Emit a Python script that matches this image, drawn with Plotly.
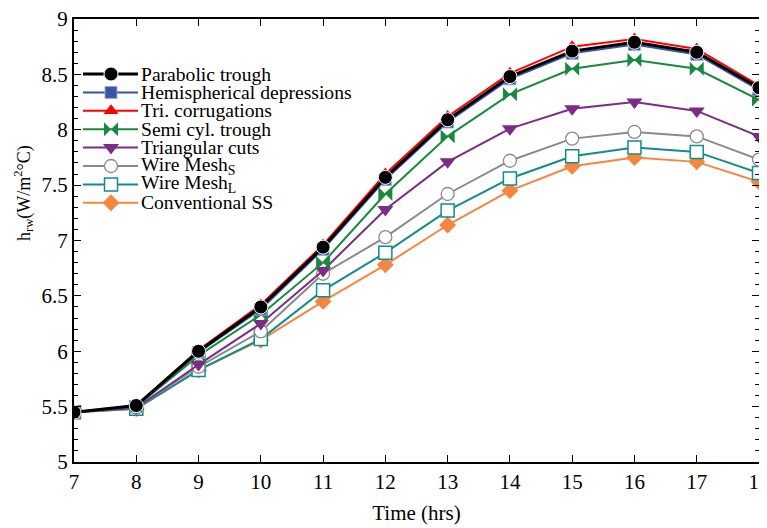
import plotly.graph_objects as go

hours = [7, 8, 9, 10, 11, 12, 13, 14, 15, 16, 17, 18]

parabolic = [5.45, 5.51, 6.00, 6.40, 6.94, 7.57, 8.09, 8.48, 8.71, 8.79, 8.70, 8.38]
hemispherical = [5.45, 5.50, 5.99, 6.38, 6.92, 7.55, 8.07, 8.46, 8.69, 8.77, 8.68, 8.36]
tri_corrugations = [5.45, 5.51, 6.01, 6.42, 6.96, 7.60, 8.12, 8.51, 8.75, 8.82, 8.73, 8.40]
semi_cyl = [5.45, 5.50, 5.96, 6.33, 6.80, 7.42, 7.94, 8.32, 8.55, 8.63, 8.55, 8.27]
triangular = [5.45, 5.49, 5.88, 6.25, 6.73, 7.28, 7.71, 8.01, 8.19, 8.25, 8.17, 7.94]
wire_mesh_s = [5.45, 5.49, 5.86, 6.18, 6.70, 7.03, 7.42, 7.72, 7.92, 7.98, 7.94, 7.73]
wire_mesh_l = [5.45, 5.48, 5.83, 6.11, 6.55, 6.89, 7.27, 7.56, 7.76, 7.84, 7.80, 7.61]
conventional = [5.45, 5.48, 5.83, 6.10, 6.45, 6.78, 7.14, 7.45, 7.67, 7.75, 7.71, 7.53]

labels = ["Parabolic trough", "Hemispherical depressions", "Tri. corrugations",
          "Semi cyl. trough", "Triangular cuts", "Wire Mesh<sub>S</sub>",
          "Wire Mesh<sub>L</sub>", "Conventional SS"]
series = [parabolic, hemispherical, tri_corrugations, semi_cyl, triangular,
          wire_mesh_s, wire_mesh_l, conventional]

styles = [
    dict(color="#000000", symbol="circle", fill="#000000", size=14, lw=3, mlw=1, mlc="#FFFFFF"),
    dict(color="#3A53A4", symbol="square", fill="#3A53A4", size=12, lw=2, mlw=1, mlc="#9AA8D8"),
    dict(color="#FF0000", symbol="triangle-up", fill="#FF0000", size=13, lw=2, mlw=0, mlc="#FF0000"),
    dict(color="#178A3E", symbol="bowtie", fill="#178A3E", size=14, lw=2, mlw=0, mlc="#178A3E"),
    dict(color="#7B2D86", symbol="triangle-down", fill="#7B2D86", size=14, lw=2, mlw=0, mlc="#7B2D86"),
    dict(color="#8A8A8A", symbol="circle", fill="#FFFFFF", size=13, lw=2, mlw=1.3, mlc="#8A8A8A"),
    dict(color="#138C8C", symbol="square", fill="#FFFFFF", size=13, lw=2, mlw=1.5, mlc="#138C8C"),
    dict(color="#F4863F", symbol="diamond", fill="#F4863F", size=13, lw=2, mlw=0, mlc="#F4863F"),
]

FONT = "Liberation Serif"
y_title = "h<sub>rw</sub>(W/m<sup>2</sup>°C)"
x_title = "Time (hrs)"

fig = go.Figure()

# draw in reverse so the black series ends on top
for lab, vals, st in reversed(list(zip(labels, series, styles))):
    fig.add_trace(go.Scatter(
        x=hours, y=vals, mode="lines+markers", name=lab, showlegend=False,
        line=dict(color=st["color"], width=st["lw"]),
        marker=dict(symbol=st["symbol"], size=st["size"], color=st["fill"],
                    line=dict(width=st["mlw"], color=st["mlc"])),
    ))

# page body has an 8px margin, so the figure is sized to fill the rest
W, H = 759, 520
ML, MR, MT, MB = 66, 8, 11, 66
PW, PH = W - ML - MR, H - MT - MB
# custom legend on a hidden overlay axis measured in pixels of the plot area
row0, rowgap = 55, 18.4
line_x0, line_x1, mark_x, text_x = 9, 64, 37, 66

for i, (lab, st) in enumerate(zip(labels, styles)):
    ry = row0 + i * rowgap
    fig.add_trace(go.Scatter(
        x=[line_x0, line_x1], y=[ry, ry], mode="lines", xaxis="x2", yaxis="y2",
        showlegend=False, hoverinfo="skip",
        line=dict(color=st["color"], width=st["lw"]),
    ))
    fig.add_trace(go.Scatter(
        x=[mark_x], y=[ry], mode="markers", xaxis="x2", yaxis="y2",
        showlegend=False, hoverinfo="skip",
        marker=dict(symbol=st["symbol"], size=st["size"], color=st["fill"],
                    line=dict(width=st["mlw"], color=st["mlc"])),
    ))
    fig.add_annotation(x=text_x, y=ry, xref="x2", yref="y2", text=lab,
                       showarrow=False, xanchor="left", yanchor="middle",
                       borderpad=0,
                       font=dict(family=FONT, size=19.6, color="#000000"))

# y-axis title, placed as in the reference (centred above the axis middle)
fig.add_annotation(x=-50 / PW, y=1 - 174 / PH, xref="paper", yref="paper", text=y_title,
                   textangle=-90, showarrow=False, xanchor="center", yanchor="middle",
                   borderpad=0, font=dict(family=FONT, size=18, color="#000000"))

axis_common = dict(
    showline=True, linecolor="#000000", linewidth=2, mirror="allticks",
    ticks="inside", ticklen=7, tickwidth=1, tickcolor="#000000",
    showgrid=False, zeroline=False, automargin=False,
    ticklabeloverflow="allow",
    tickfont=dict(family=FONT, size=21, color="#000000"),
)

fig.update_layout(
    width=W, height=H,
    margin=dict(l=ML, r=MR, t=MT, b=MB),
    paper_bgcolor="#FFFFFF", plot_bgcolor="#FFFFFF",
    font=dict(family=FONT, color="#000000"),
    xaxis=dict(range=[7, 18], dtick=1, tick0=7,
               title=dict(text=x_title, font=dict(family=FONT, size=21), standoff=12),
               **axis_common),
    yaxis=dict(range=[5, 9], dtick=0.5, tick0=5,
               minor=dict(dtick=0.1, ticks="inside", ticklen=4, tickcolor="#000000"),
               **axis_common),
    xaxis2=dict(range=[0, PW], overlaying="x", visible=False, fixedrange=True),
    yaxis2=dict(range=[PH, 0], overlaying="y", visible=False, fixedrange=True),
    showlegend=False,
)

fig.write_html("out.html")
